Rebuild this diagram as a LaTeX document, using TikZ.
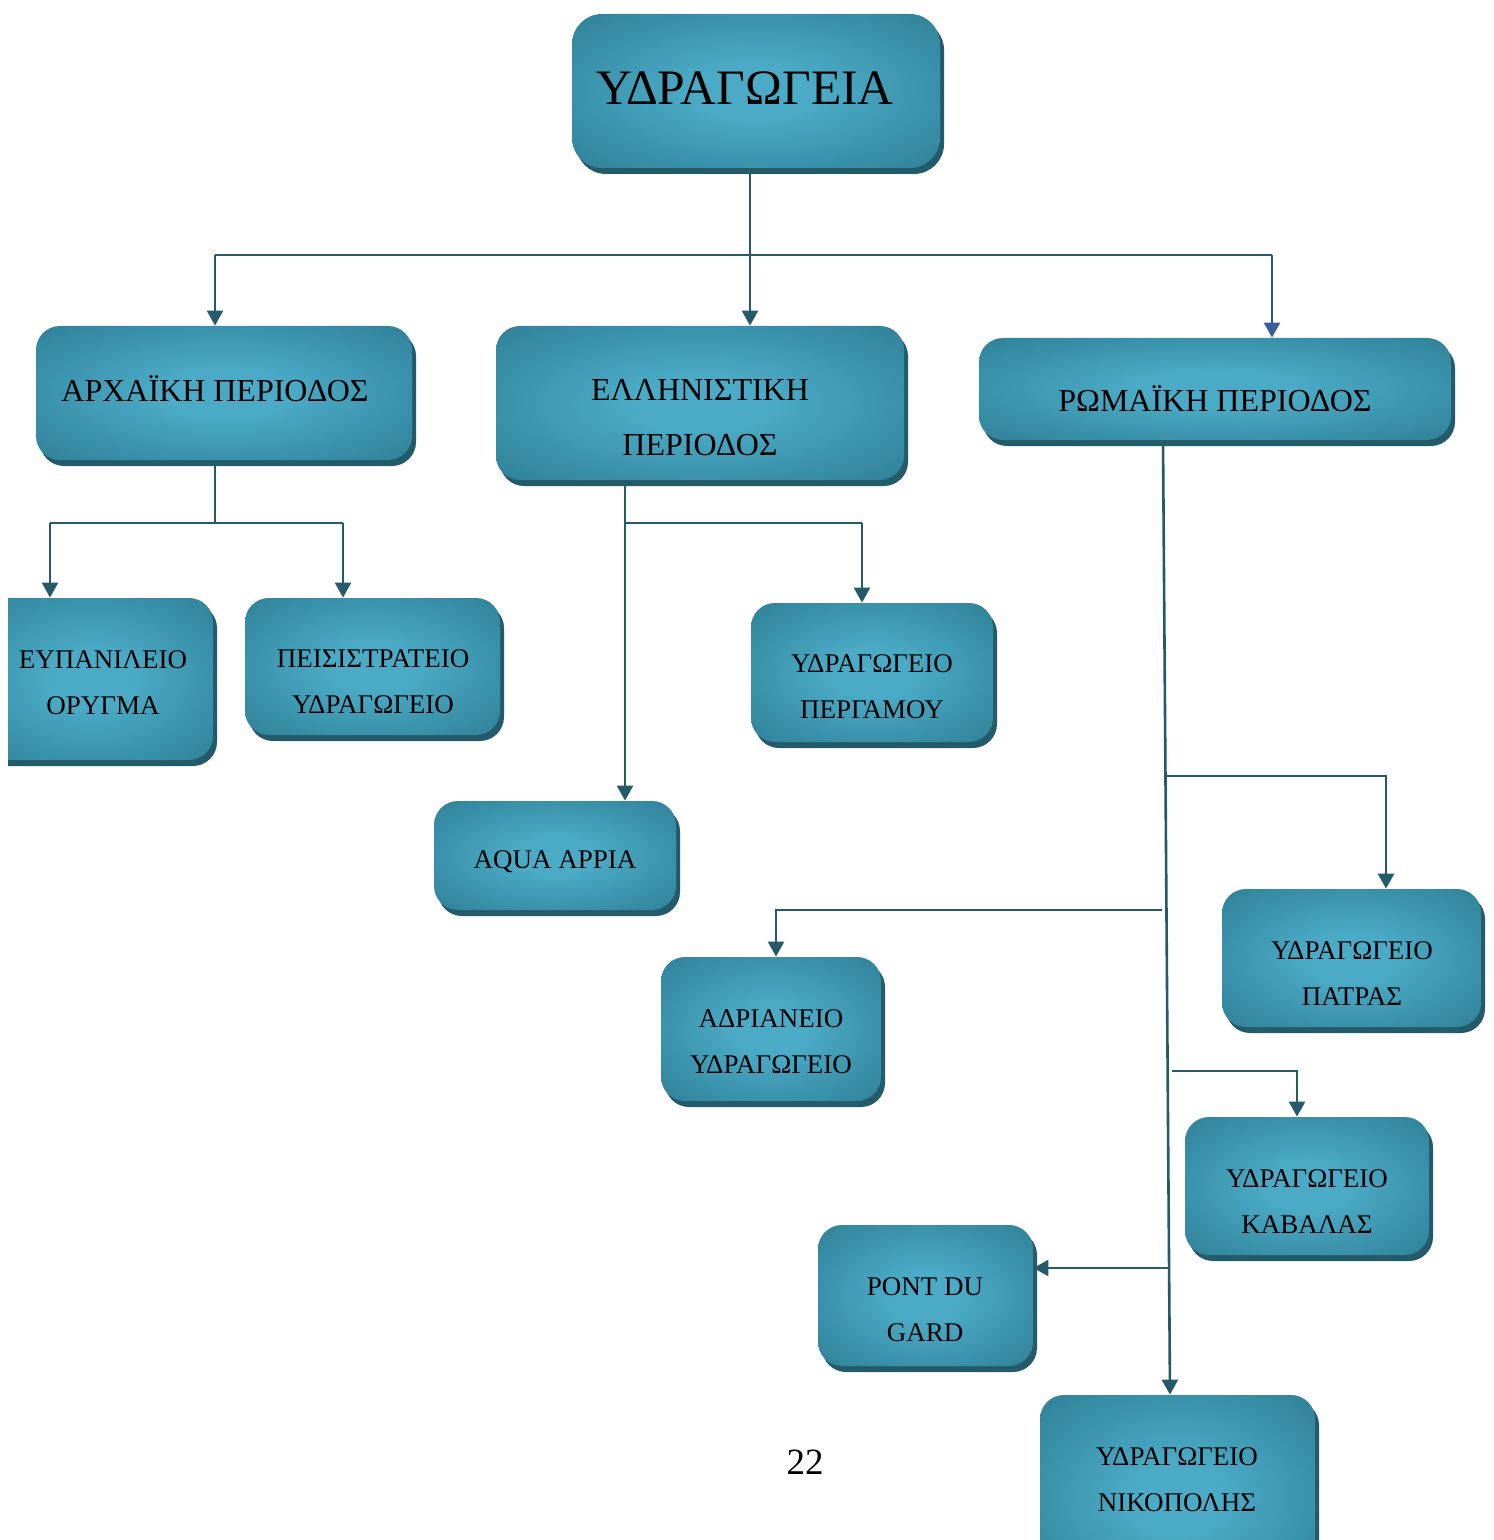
\documentclass[tikz,border=0pt]{standalone}
\usepackage{fontspec}
\setmainfont{Liberation Serif}
\usetikzlibrary{arrows.meta,shadows,fit}
\definecolor{boxin}{HTML}{4BABC6}
\definecolor{boxout}{HTML}{2F8097}
\definecolor{shd}{HTML}{235B6B}
\definecolor{lc}{HTML}{245A6A}
\definecolor{bluetip}{HTML}{3A5F9A}
\pgfdeclareradialshading{boxshade}{\pgfpoint{0bp}{0bp}}{color(0bp)=(boxin); color(8bp)=(boxin); color(36bp)=(boxout); color(50bp)=(boxout)}
\tikzset{
  boxstyle/.style={rectangle, rounded corners=12pt, inner sep=0pt, shading=boxshade,
     general shadow={fill=shd, shadow xshift=2pt, shadow yshift=-3pt}},
  lblbig/.style={font=\fontsize{24.8}{28}\selectfont, align=center, inner sep=0pt},
  lblmid/.style={font=\fontsize{16}{27.5}\selectfont, align=center, inner sep=0pt},
  lblsm/.style={font=\fontsize{13.5}{23}\selectfont, align=center, inner sep=0pt},
  line/.style={draw=lc, line width=1.3pt},
  conn/.style={draw=lc, line width=1.3pt, -{Triangle[length=7.5pt,width=8pt]}},
}
\begin{document}
\begin{tikzpicture}[x=0.5pt,y=-0.5pt]
\useasboundingbox (0,0) rectangle (1493,1540);
\clip (8,0) rectangle (1493,1540);
% boxes
\node[boxstyle, rounded corners=15pt, fit={(572,14) (940,168)}] (title) {};
\node[lblbig] at (745,88) {ΥΔΡΑΓΩΓΕΙΑ};
\node[boxstyle, fit={(36,326) (412,460)}] (arch) {};
\node[lblmid] at (215,389) {ΑΡΧΑΪΚΗ ΠΕΡΙΟΔΟΣ};
\node[boxstyle, fit={(496,326) (904,480)}] (ell) {};
\node[lblmid] at (700,418) {ΕΛΛΗΝΙΣΤΙΚΗ\\ΠΕΡΙΟΔΟΣ};
\node[boxstyle, fit={(979,338) (1451,440)}] (rom) {};
\node[lblmid] at (1215,399) {ΡΩΜΑΪΚΗ ΠΕΡΙΟΔΟΣ};
\node[boxstyle, fit={(-30,598) (213,760)}] (eup) {};
\node[lblsm] at (103,683) {ΕΥΠΑΝΙΛΕΙΟ\\ΟΡΥΓΜΑ};
\node[boxstyle, fit={(245,598) (500,735)}] (peis) {};
\node[lblsm] at (373,682) {ΠΕΙΣΙΣΤΡΑΤΕΙΟ\\ΥΔΡΑΓΩΓΕΙΟ};
\node[boxstyle, fit={(751,603) (993,742)}] (perg) {};
\node[lblsm] at (872,687) {ΥΔΡΑΓΩΓΕΙΟ\\ΠΕΡΓΑΜΟΥ};
\node[boxstyle, fit={(434,801) (676,910)}] (aqua) {};
\node[lblsm] at (555,862) {AQUA APPIA};
\node[boxstyle, fit={(661,957) (881,1101)}] (adr) {};
\node[lblsm] at (771,1042) {ΑΔΡΙΑΝΕΙΟ\\ΥΔΡΑΓΩΓΕΙΟ};
\node[boxstyle, fit={(1222,889) (1481,1027)}] (patr) {};
\node[lblsm] at (1352,974) {ΥΔΡΑΓΩΓΕΙΟ\\ΠΑΤΡΑΣ};
\node[boxstyle, fit={(1185,1117) (1429,1255)}] (kav) {};
\node[lblsm] at (1307,1202) {ΥΔΡΑΓΩΓΕΙΟ\\ΚΑΒΑΛΑΣ};
\node[boxstyle, fit={(818,1225) (1033,1366)}] (pont) {};
\node[lblsm] at (925,1310) {PONT DU\\GARD};
\node[boxstyle, fit={(1040,1395) (1315,1600)}] (nik) {};
\node[lblsm] at (1177,1480) {ΥΔΡΑΓΩΓΕΙΟ\\ΝΙΚΟΠΟΛΗΣ};
\node[font=\fontsize{18.5}{22}\selectfont, inner sep=0pt] (page) at (805,1462) {22};
% connectors
\coordinate (j0) at (750,255);
\coordinate (ja) at (215,255);
\coordinate (jr) at (1272,255);
\draw[conn] (title.south -| j0) -- (ell.north -| j0);
\draw[line] (ja) -- (jr);
\draw[conn] (ja) -- (arch.north -| ja);
\draw[line, -{Triangle[length=7.5pt,width=8pt,color=bluetip]}] (jr) -- (rom.north -| jr);
\coordinate (a1) at (215,523);
\coordinate (a2) at (50,523);
\coordinate (a3) at (343,523);
\draw[line] (arch.south -| a1) -- (a1);
\draw[line] (a2) -- (a3);
\draw[conn] (a2) -- (eup.north -| a2);
\draw[conn] (a3) -- (peis.north -| a3);
\coordinate (e1) at (625,523);
\coordinate (e2) at (862,523);
\draw[conn] (ell.south -| e1) -- (aqua.north -| e1);
\draw[line] (e1) -- (e2);
\draw[conn] (e2) -- (perg.north -| e2);
\coordinate (r0) at (1163,0);
\coordinate (r9) at (1170,0);
\draw[conn] (rom.south -| r0) -- (nik.north -| r9);
\coordinate (rb1) at (1165,776);
\coordinate (rb1e) at (1386,776);
\draw[conn] (rb1) -- (rb1e) -- (patr.north -| rb1e);
\coordinate (rb2) at (1162,910);
\coordinate (rb2e) at (776,910);
\draw[conn] (rb2) -- (rb2e) -- (adr.north -| rb2e);
\coordinate (rb3) at (1172,1071);
\coordinate (rb3e) at (1297,1071);
\draw[conn] (rb3) -- (rb3e) -- (kav.north -| rb3e);
\coordinate (rb4) at (1169,1268);
\draw[conn] (rb4) -- (pont.east |- rb4);
\end{tikzpicture}
\end{document}
